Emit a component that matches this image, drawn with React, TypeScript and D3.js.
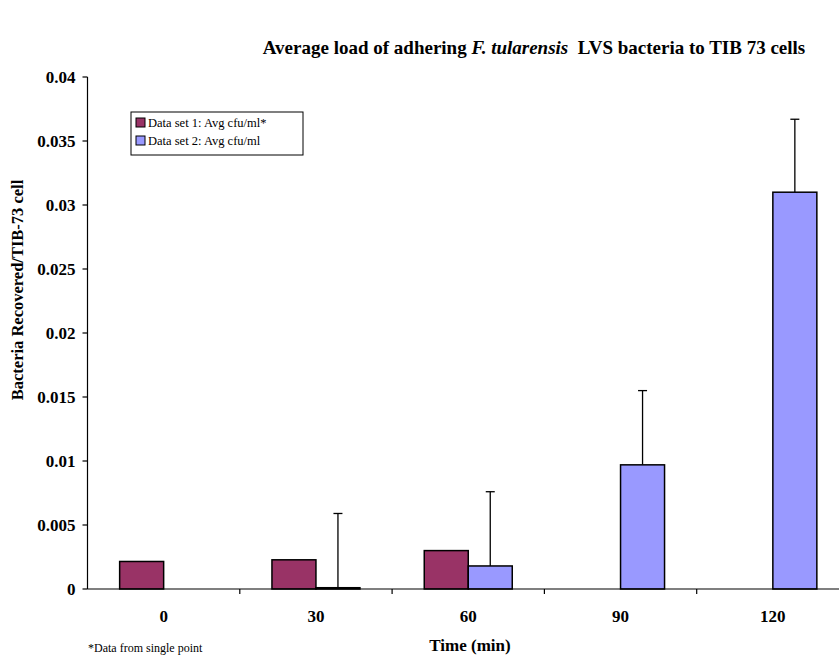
import React from 'react';
import * as d3 from 'd3';

const categories = ['0', '30', '60', '90', '120'];
const set1 = [0.00215, 0.00228, 0.003, null, null];
const set2 = [null, 0.0001, 0.0018, 0.0097, 0.031];
const set2Err = [null, 0.0058, 0.0058, 0.0058, 0.0057];
const yTicks = [0, 0.005, 0.01, 0.015, 0.02, 0.025, 0.03, 0.035, 0.04];
const seriesNames = ['Data set 1: Avg cfu/ml*', 'Data set 2: Avg cfu/ml'];
const colors = ['#993366', '#9999FF'];

const W = 839;
const H = 656;
const left = 87.5;
const bottom = 589;
const top = 77;
const band = 152.3;
const font = '"Liberation Serif", "Times New Roman", serif';

export default function App() {
  const x = d3
    .scaleBand<string>()
    .domain(categories)
    .range([left, left + band * categories.length])
    .paddingInner(0)
    .paddingOuter(0);
  const y = d3.scaleLinear().domain([0, 0.04]).range([bottom, top]);
  const bw = 44;

  const bars: React.ReactNode[] = [];
  categories.forEach((c, i) => {
    const cx = (x(c) as number) + x.bandwidth() / 2;
    const v1 = set1[i];
    const v2 = set2[i];
    if (v1 != null) {
      bars.push(
        <rect key={'a' + i} x={cx - bw} y={y(v1)} width={bw} height={bottom - y(v1)}
          fill={colors[0]} stroke="#000" strokeWidth={1.5} />
      );
    }
    if (v2 != null) {
      const e = set2Err[i] as number;
      const ex = cx + bw / 2;
      bars.push(
        <g key={'b' + i}>
          <line x1={ex} x2={ex} y1={y(v2)} y2={y(v2 + e)} stroke="#000" strokeWidth={1.3} />
          <line x1={ex - 4.5} x2={ex + 4.5} y1={y(v2 + e)} y2={y(v2 + e)} stroke="#000" strokeWidth={1.3} />
          <rect x={cx} y={y(v2)} width={bw} height={Math.max(bottom - y(v2), 0.5)}
            fill={colors[1]} stroke="#000" strokeWidth={1.5} />
        </g>
      );
    }
  });

  return (
    <svg width={W} height={H} style={{ position: 'absolute', left: 0, top: 0, background: '#fff' }}
      fontFamily={font}>
      <text x={534} y={54} textAnchor="middle" fontSize={19} fontWeight="bold">
        Average load of adhering <tspan fontStyle="italic">F. tularensis</tspan>{'\u00a0\u00a0'}LVS bacteria to TIB 73 cells
      </text>

      {/* y axis */}
      <line x1={left} x2={left} y1={top} y2={bottom} stroke="#000" strokeWidth={1.2} />
      {yTicks.map((t) => (
        <g key={t}>
          <line x1={left - 5} x2={left} y1={y(t)} y2={y(t)} stroke="#000" strokeWidth={1.2} />
          <text x={left - 12} y={y(t) + 6} textAnchor="end" fontSize={17} fontWeight="bold">
            {String(t)}
          </text>
        </g>
      ))}
      <text transform={`translate(23,290) rotate(-90)`} textAnchor="middle"
        fontSize={16.5} fontWeight="bold">
        Bacteria Recovered/TIB-73 cell
      </text>

      {bars}

      {/* x axis */}
      <line x1={left} x2={W} y1={bottom} y2={bottom} stroke="#000" strokeWidth={1.2} />
      {categories.map((c, i) =>
        i > 0 ? (
          <line key={'t' + c} x1={x(c) as number} x2={x(c) as number} y1={bottom} y2={bottom + 5}
            stroke="#000" strokeWidth={1.2} />
        ) : null
      )}
      {categories.map((c) => (
        <text key={'l' + c} x={(x(c) as number) + x.bandwidth() / 2} y={622} textAnchor="middle"
          fontSize={17} fontWeight="bold">
          {c}
        </text>
      ))}
      <text x={470} y={651} textAnchor="middle" fontSize={17} fontWeight="bold">Time (min)</text>
      <text x={88} y={652} fontSize={12}>*Data from single point</text>

      {/* legend */}
      <rect x={131} y={112} width={172} height={43} fill="#fff" stroke="#000" strokeWidth={1} />
      {seriesNames.map((n, i) => (
        <g key={n}>
          <rect x={136} y={118 + i * 18} width={9} height={9} fill={colors[i]} stroke="#000" strokeWidth={1} />
          <text x={148} y={127 + i * 18} fontSize={12.5}>{n}</text>
        </g>
      ))}
    </svg>
  );
}
